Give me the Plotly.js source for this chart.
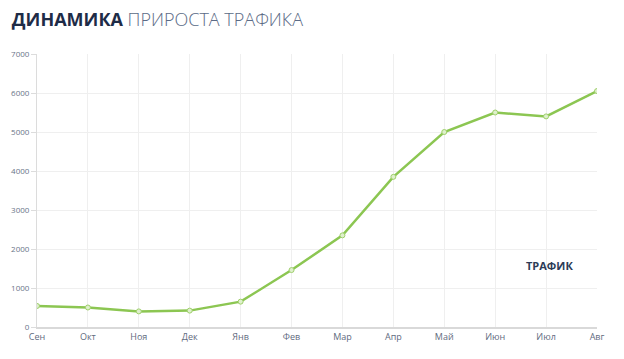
<!DOCTYPE html>
<html><head><meta charset="utf-8">
<script src="https://cdn.plot.ly/plotly-3.0.1.min.js"></script>
<style>html,body{margin:0;padding:0;background:#fff}#c{width:624px;height:359px}</style>
</head><body><div id="c"></div>
<script>
const months = ["Сен","Окт","Ноя","Дек","Янв","Фев","Мар","Апр","Май","Июн","Июл","Авг"];
const traffic = [540, 500, 400, 420, 650, 1460, 2350, 3850, 5000, 5500, 5400, 6050];
const yTicks = [0,1000,2000,3000,4000,5000,6000,7000];
const seriesName = "ТРАФИК";

Plotly.newPlot("c", [{
  x: months, y: traffic, type: "scatter", mode: "lines+markers",
  line: {color: "#8cc652", width: 2.5},
  marker: {size: 5, color: "#dff0cc", line: {color: "#9fd06c", width: 1}},
  hoverinfo: "none"
}], {
  width: 624, height: 359,
  margin: {l: 37, r: 27, t: 54, b: 32},
  paper_bgcolor: "#fff", plot_bgcolor: "#fff",
  showlegend: false,
  font: {family: "Open Sans, sans-serif"},
  title: {
    text: "<span style=\"font-weight:bold;color:#1e2c47\">ДИНАМИКА</span> <span style=\"font-weight:300\">ПРИРОСТА ТРАФИКА</span>",
    font: {size: 18, color: "#5b6b86", family: "Open Sans, sans-serif"},
    x: 0.019, xanchor: "left", y: 0.945, yanchor: "middle"
  },
  xaxis: {
    type: "category", range: [0, months.length - 1],
    showgrid: true, gridcolor: "#efefef", gridwidth: 1,
    showline: true, linecolor: "#d9d9d9", linewidth: 2,
    ticks: "", tickfont: {size: 9, color: "#5f6b80"},
    zeroline: false, fixedrange: true
  },
  yaxis: {
    range: [0, 7000], tickvals: yTicks,
    showgrid: true, gridcolor: "#efefef", gridwidth: 1,
    showline: true, linecolor: "#dcdcdc", linewidth: 1,
    ticks: "outside", ticklen: 5, tickcolor: "#dcdcdc",
    tickfont: {size: 8, color: "#6a7588"},
    zeroline: false, fixedrange: true
  },
  annotations: [{
    text: "<b>" + seriesName + "</b>", xref: "paper", yref: "paper",
    x: 0.915, y: 0.225, xanchor: "center", yanchor: "middle", showarrow: false,
    font: {size: 11, color: "#2c3b57", family: "Open Sans, sans-serif"}
  }]
}, {staticPlot: true});
</script>
</body></html>
